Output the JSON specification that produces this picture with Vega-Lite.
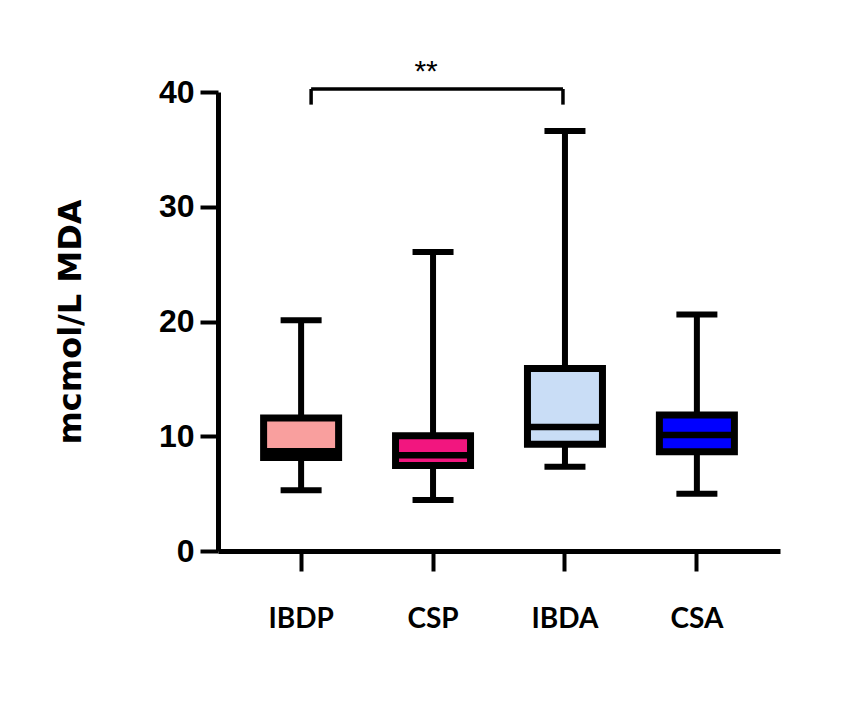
{
  "$schema": "https://vega.github.io/schema/vega-lite/v6.json",
  "autosize": {"type": "none"},
  "width": 562,
  "height": 459,
  "padding": {"left": 218, "top": 92, "right": 69, "bottom": 158},
  "background": "white",
  "config": {"view": {"stroke": null}},
  "datasets": {
    "boxes": [
      {"group": "IBDP", "min": 5.3, "q1": 8.15, "median": 8.7, "q3": 11.6, "max": 20.1},
      {"group": "CSP", "min": 4.45, "q1": 7.45, "median": 8.35, "q3": 10.05, "max": 26.05},
      {"group": "IBDA", "min": 7.35, "q1": 9.3, "median": 10.8, "q3": 15.9, "max": 36.6},
      {"group": "CSA", "min": 5.0, "q1": 8.65, "median": 10.1, "q3": 11.85, "max": 20.6}
    ],
    "bracket": [
      {"from": "IBDP", "to": "IBDA", "top": 40.26, "leg": 38.9, "star": 41.0, "label": "**"}
    ]
  },
  "layer": [
    {
      "data": {"name": "boxes"},
      "mark": {"type": "rule", "color": "black", "strokeWidth": 6},
      "encoding": {
        "x": {"field": "group", "type": "nominal",
          "scale": {"domain": ["IBDP", "CSP", "IBDA", "CSA"], "paddingInner": 0.43, "paddingOuter": 0.345},
          "axis": {"title": null, "labelAngle": 0, "labelFont": "Lato", "labelFontWeight": "bold", "labelFontSize": 28, "labelColor": "black", "labelPadding": 34, "tickSize": 20, "tickWidth": 4, "tickColor": "black", "domainColor": "black", "domainWidth": 5}},
        "y": {"field": "min", "type": "quantitative",
          "scale": {"domain": [0, 40], "nice": false, "zero": true},
          "axis": {"title": "mcmol/L MDA", "values": [0, 10, 20, 30, 40], "grid": false, "labelFont": "Liberation Sans", "labelFontWeight": "bold", "labelFontSize": 32, "labelColor": "black", "labelPadding": 6, "tickSize": 18, "tickWidth": 4, "tickColor": "black", "domainColor": "black", "domainWidth": 5, "titleFont": "DejaVu Sans", "titleFontWeight": "bold", "titleFontSize": 32, "titleColor": "black", "titlePadding": 71}},
        "y2": {"field": "max"}
      }
    },
    {
      "data": {"name": "boxes"},
      "mark": {"type": "tick", "color": "black", "size": 41, "thickness": 6, "opacity": 1},
      "encoding": {
        "x": {"field": "group", "type": "nominal"},
        "y": {"field": "min", "type": "quantitative"}
      }
    },
    {
      "data": {"name": "boxes"},
      "mark": {"type": "tick", "color": "black", "size": 41, "thickness": 6, "opacity": 1},
      "encoding": {
        "x": {"field": "group", "type": "nominal"},
        "y": {"field": "max", "type": "quantitative"}
      }
    },
    {
      "data": {"name": "boxes"},
      "mark": {"type": "bar", "size": 75, "stroke": "black", "strokeWidth": 7, "opacity": 1},
      "encoding": {
        "x": {"field": "group", "type": "nominal"},
        "y": {"field": "q1", "type": "quantitative"},
        "y2": {"field": "q3"},
        "fill": {"field": "group", "type": "nominal", "legend": null,
          "scale": {"domain": ["IBDP", "CSP", "IBDA", "CSA"], "range": ["#F99F9E", "#F2167F", "#C9DDF6", "#0000FF"]}}
      }
    },
    {
      "data": {"name": "boxes"},
      "mark": {"type": "tick", "color": "black", "size": 75, "thickness": 6.5, "opacity": 1},
      "encoding": {
        "x": {"field": "group", "type": "nominal"},
        "y": {"field": "median", "type": "quantitative"}
      }
    },
    {
      "data": {"name": "bracket"},
      "mark": {"type": "rule", "color": "black", "strokeWidth": 3.5, "xOffset": 10, "x2Offset": -2},
      "encoding": {
        "x": {"field": "from", "type": "nominal"},
        "x2": {"field": "to"},
        "y": {"field": "top", "type": "quantitative"}
      }
    },
    {
      "data": {"name": "bracket"},
      "mark": {"type": "rule", "color": "black", "strokeWidth": 3.5, "xOffset": 10},
      "encoding": {
        "x": {"field": "from", "type": "nominal"},
        "y": {"field": "leg", "type": "quantitative"},
        "y2": {"field": "top"}
      }
    },
    {
      "data": {"name": "bracket"},
      "mark": {"type": "rule", "color": "black", "strokeWidth": 3.5, "xOffset": -2},
      "encoding": {
        "x": {"field": "to", "type": "nominal"},
        "y": {"field": "leg", "type": "quantitative"},
        "y2": {"field": "top"}
      }
    },
    {
      "data": {"name": "bracket"},
      "mark": {"type": "text", "font": "Liberation Sans", "fontSize": 30, "color": "black", "baseline": "alphabetic", "align": "center", "xOffset": 125},
      "encoding": {
        "x": {"field": "from", "type": "nominal"},
        "y": {"field": "star", "type": "quantitative"},
        "text": {"field": "label"}
      }
    }
  ]
}
